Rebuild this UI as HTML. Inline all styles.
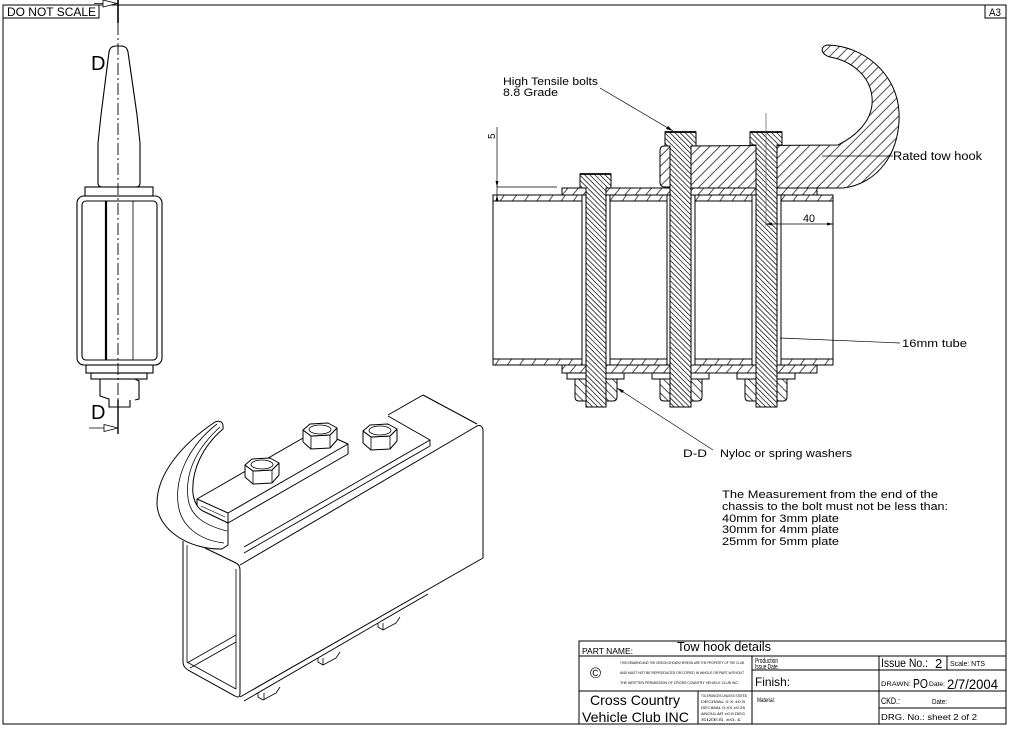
<!DOCTYPE html>
<html><head><meta charset="utf-8"><style>
html,body{margin:0;padding:0;background:#fff;}
svg{display:block;}
text{font-family:"Liberation Sans",sans-serif;fill:#000;}
</style></head><body>
<svg width="1011" height="729" viewBox="0 0 1011 729" xmlns="http://www.w3.org/2000/svg">
<defs>
<pattern id="hb" width="3.6" height="3.6" patternUnits="userSpaceOnUse" patternTransform="rotate(45)"><rect width="3.6" height="3.6" fill="#fff"/><line x1="0" y1="1.8" x2="3.6" y2="1.8" stroke="#000" stroke-width="0.7"/></pattern>
<pattern id="hn" width="6" height="6" patternUnits="userSpaceOnUse" patternTransform="rotate(45)"><rect width="6" height="6" fill="#fff"/><line x1="0" y1="3" x2="6" y2="3" stroke="#000" stroke-width="0.7"/></pattern>
<pattern id="hh" width="7" height="7" patternUnits="userSpaceOnUse" patternTransform="rotate(-45)"><rect width="7" height="7" fill="#fff"/><line x1="0" y1="3.5" x2="7" y2="3.5" stroke="#000" stroke-width="0.7"/></pattern>
<pattern id="hp" width="8" height="8" patternUnits="userSpaceOnUse" patternTransform="rotate(-50)"><rect width="8" height="8" fill="#fff"/><line x1="0" y1="4" x2="8" y2="4" stroke="#000" stroke-width="0.7"/></pattern>
<pattern id="ht" width="10" height="10" patternUnits="userSpaceOnUse" patternTransform="rotate(-55)"><rect width="10" height="10" fill="#fff"/><line x1="0" y1="5" x2="10" y2="5" stroke="#000" stroke-width="0.7"/></pattern>
</defs>

<!-- Border -->
<rect x="3" y="5" width="1003" height="719" fill="none" stroke="#000" stroke-width="1"/>
<rect x="3" y="5" width="96" height="13" fill="#fff" stroke="#000" stroke-width="1"/>
<text x="7" y="16" font-size="11.5" textLength="89" lengthAdjust="spacingAndGlyphs">DO NOT SCALE</text>
<rect x="985" y="5" width="21" height="13" fill="#fff" stroke="#000" stroke-width="1"/>
<text x="989" y="16" font-size="11" textLength="12" lengthAdjust="spacingAndGlyphs">A3</text>

<!-- ============ SIDE VIEW ============ -->
<g fill="none" stroke="#000" stroke-width="1.1">
  <line x1="118" y1="0" x2="118" y2="23" stroke-width="1.6"/>
  <line x1="118" y1="23" x2="118" y2="400" stroke-width="0.9" stroke-dasharray="12 3 2 3"/>
  <line x1="118" y1="400" x2="118" y2="434" stroke-width="1.4"/>
  <line x1="94" y1="3.5" x2="118" y2="3.5" stroke-width="0.8"/>
  <polygon points="103,0 117,3.5 103,7" fill="#fff" stroke-width="0.8"/>
  <line x1="89" y1="428" x2="118" y2="428" stroke-width="0.8"/>
  <polygon points="104,424.5 118,428 104,431.5" fill="#fff" stroke-width="0.8"/>
  <path d="M98,183 L98,143 L101,115 L109,52 Q110,46 116,46 L121,46 Q127,46 128,52 L137,115 L140,143 L140,183 Q140,187 136,187 L102,187 Q98,187 98,183 Z"/>
  <rect x="85" y="187" width="68" height="9"/>
  <rect x="77" y="196" width="85" height="169" rx="7"/>
  <rect x="82" y="201" width="75" height="159" rx="4"/>
  <line x1="106" y1="201" x2="106" y2="360" stroke-width="2.2"/>
  <line x1="133" y1="201" x2="133" y2="360" stroke-width="0.8"/>
  <rect x="86" y="365" width="67" height="8"/>
  <rect x="91" y="373" width="56" height="6"/>
  <path d="M100,379 L100,396 L109,399 L109,407 L130,407 L130,400"/>
  <path d="M135,379 L139,381 L139,399 L135,400"/>
</g>
<text x="91" y="70" font-size="20">D</text>
<text x="91" y="419" font-size="20">D</text>

<!-- ============ SECTION VIEW ============ -->
<g stroke="#000" stroke-width="1">
  <!-- tube walls -->
  <rect x="493" y="195" width="340" height="6" fill="url(#ht)"/>
  <rect x="493" y="359" width="340" height="6" fill="url(#ht)"/>
  <line x1="493" y1="195" x2="493" y2="365"/>
  <line x1="833" y1="195" x2="833" y2="365"/>
  <!-- plates -->
  <rect x="562" y="188" width="255" height="7" fill="url(#hp)"/>
  <rect x="562" y="365" width="255" height="8" fill="url(#hp)"/>
  <!-- hook -->
  <path d="M670,146 H664 Q660,146 660,151 V182 Q660,187 665,187 H670 Z" fill="url(#hh)"/>
  <path d="M691,146 L838,145 C860,134 874,117 872,97 C870,76 852,61 830,57 C821,55 819,46 828,45 C864,46 897,74 899,112 C901,152 878,184 843,188 L691,188 Z" fill="url(#hh)"/>
  <!-- sleeves -->
  <rect x="582" y="195" width="28" height="170" fill="#fff"/>
  <rect x="667" y="195" width="28" height="170" fill="#fff"/>
  <rect x="752" y="195" width="29" height="170" fill="#fff"/>
  <!-- washers -->
  <rect x="567" y="373" width="57" height="6" fill="#fff"/>
  <rect x="652" y="373" width="57" height="6" fill="#fff"/>
  <rect x="737" y="373" width="58" height="6" fill="#fff"/>
  <!-- nuts -->
  <path d="M575,379 H617 V397 Q617,401 613,401 H579 Q575,401 575,397 Z" fill="url(#hn)"/>
  <path d="M660,379 H702 V397 Q702,401 698,401 H664 Q660,401 660,397 Z" fill="url(#hn)"/>
  <path d="M745,379 H787 V397 Q787,401 783,401 H749 Q745,401 745,397 Z" fill="url(#hn)"/>
  <!-- bolts -->
  <path d="M580,174 H611 V188 H606 V407 H586 V188 H580 Z" fill="url(#hb)"/>
  <path d="M665,132 H696 V146 H691 V407 H670 V146 H665 Z" fill="url(#hb)"/>
  <path d="M750,132 H782 V145 H777 V407 H756 V145 H750 Z" fill="url(#hb)"/>
</g>
<g stroke="#000" stroke-width="1.8">
  <line x1="580" y1="174" x2="611" y2="174"/>
  <line x1="665" y1="132" x2="696" y2="132"/>
  <line x1="750" y1="132" x2="782" y2="132"/>
</g>
<g stroke="#000" stroke-width="0.7" fill="none">
  <line x1="582" y1="201" x2="582" y2="359"/><line x1="610" y1="201" x2="610" y2="359"/>
  <line x1="667" y1="201" x2="667" y2="359"/><line x1="695" y1="201" x2="695" y2="359"/>
  <line x1="752" y1="201" x2="752" y2="359"/><line x1="781" y1="201" x2="781" y2="359"/>
  <line x1="766" y1="113" x2="766" y2="226" stroke="#555"/>
  <!-- dim 5 -->
  <line x1="497" y1="127" x2="497" y2="201"/>
  <line x1="497" y1="187" x2="557" y2="187"/>
  <!-- dim 40 -->
  <line x1="766" y1="224" x2="833" y2="224"/>
  <!-- leaders -->
  <line x1="600" y1="88" x2="673" y2="131"/>
  <line x1="822" y1="156" x2="893" y2="156"/>
  <line x1="780" y1="338" x2="900" y2="343"/>
  <line x1="713" y1="450" x2="617" y2="388"/>
</g>
<g fill="#000">
  <polygon points="497,187 495.5,181 498.5,181"/>
  <polygon points="497,195 495.5,201 498.5,201"/>
  <polygon points="766,224 772,222.5 772,225.5"/>
  <polygon points="833,224 827,222.5 827,225.5"/>
  <polygon points="673,131 666,129 668,126"/>
  <polygon points="617,388 624,390.5 622,393"/>
</g>
<text x="0" y="0" font-size="10" transform="translate(495,139) rotate(-90)">5</text>
<text x="803" y="222" font-size="11" textLength="12" lengthAdjust="spacingAndGlyphs">40</text>
<text x="503" y="85" font-size="11" textLength="95" lengthAdjust="spacingAndGlyphs">High Tensile bolts</text>
<text x="503" y="96" font-size="11" textLength="55" lengthAdjust="spacingAndGlyphs">8.8 Grade</text>
<text x="893" y="160" font-size="11.5" textLength="89" lengthAdjust="spacingAndGlyphs">Rated tow hook</text>
<text x="902" y="347" font-size="11" textLength="65" lengthAdjust="spacingAndGlyphs">16mm tube</text>
<text x="683" y="457" font-size="11" textLength="24" lengthAdjust="spacingAndGlyphs">D-D</text>
<text x="720" y="457" font-size="11" textLength="132" lengthAdjust="spacingAndGlyphs">Nyloc or spring washers</text>

<!-- Notes -->
<text x="722" y="498" font-size="11" textLength="216" lengthAdjust="spacingAndGlyphs">The Measurement from the end of the</text>
<text x="722" y="510" font-size="11" textLength="226" lengthAdjust="spacingAndGlyphs">chassis to the bolt must not be less than:</text>
<text x="722" y="522" font-size="11" textLength="117" lengthAdjust="spacingAndGlyphs">40mm for 3mm plate</text>
<text x="722" y="533" font-size="11" textLength="117" lengthAdjust="spacingAndGlyphs">30mm for 4mm plate</text>
<text x="722" y="545" font-size="11" textLength="117" lengthAdjust="spacingAndGlyphs">25mm for 5mm plate</text>

<!-- ============ ISO VIEW ============ -->
<g fill="none" stroke="#000" stroke-width="1" stroke-linejoin="round">
  <!-- tube -->
  <path d="M183,541 L183,662 Q183,667 188,670 L235,696 Q240,699 240,693 L240,570 Q240,565 236,563 L205,548"/>
  <path d="M187,545 L187,662 L236,689 L236,569" stroke-width="0.8"/>
  <path d="M187,663 L236,635 M190,668 L236,642" stroke-width="0.8"/>
  <path d="M240,565 L477,426 Q482,424 483,430 L483,558"/>
  <path d="M240,697 L483,558"/>
  <path d="M423,395 L477,424"/>
  <path d="M388,415 L423,395"/>
  <!-- plate on top -->
  <path d="M388,416 L430,440 L430,446" stroke-width="0.9"/>
  <path d="M244,547 L430,440 M244,553 L430,446" stroke-width="0.9"/>
  <!-- bottom plate & nuts -->
  <path d="M244,701 L428,594" stroke-width="0.9"/>
  <path d="M258,693 L258,697 L263,700 L276,693 L280,687 M264,700 L264,693" stroke-width="0.8"/>
  <path d="M318,658 L318,662 L323,665 L336,658 L340,652 M323,665 L323,658" stroke-width="0.8"/>
  <path d="M378,623 L378,627 L383,630 L396,623 L400,617 M383,630 L383,623" stroke-width="0.8"/>
  <!-- hook bar -->
  <path d="M197,499 L228,513 L348,444 L317,430 Z" fill="#fff"/>
  <path d="M228,513 L228,523 L348,454 L348,444"/>
  <path d="M197,499 L197,507 Q197,511 201,513 L228,523"/>
  <path d="M201,506 L225,517" stroke-width="0.6"/>
  <!-- nut 3 (on plate) -->
  <path d="M363,431 L363,443 L371,450 L390,449 L397,441 L397,429 L390,436 L371,437 Z" fill="#fff"/>
  <path d="M363,431 L370,425 L388,424 L397,429 L390,436 L371,437 Z" fill="#fff"/>
  <path d="M371,437 L371,450 M390,436 L390,449" stroke-width="0.8"/>
  <ellipse cx="380" cy="430.5" rx="11" ry="4.5" stroke-width="0.8"/>
  <!-- nut 2 -->
  <path d="M303,430 L303,442 L311,449 L330,448 L337,440 L337,428 L330,435 L311,436 Z" fill="#fff"/>
  <path d="M303,430 L310,424 L328,423 L337,428 L330,435 L311,436 Z" fill="#fff"/>
  <path d="M311,436 L311,449 M330,435 L330,448" stroke-width="0.8"/>
  <ellipse cx="320" cy="429.5" rx="11" ry="4.5" stroke-width="0.8"/>
  <!-- nut 1 -->
  <path d="M245,465 L245,477 L253,484 L272,483 L279,475 L279,463 L272,470 L253,471 Z" fill="#fff"/>
  <path d="M245,465 L252,459 L270,458 L279,463 L272,470 L253,471 Z" fill="#fff"/>
  <path d="M253,471 L253,484 M272,470 L272,483" stroke-width="0.8"/>
  <ellipse cx="262" cy="464.5" rx="11" ry="4.5" stroke-width="0.8"/>
  <!-- hook -->
  <path d="M222,549 C190,550 157,530 157,503 C157,474 182,444 215,422 Q224,419 223,429 C203,446 191,470 193,494 C195,506 200,510 205,512 L228,523 L228,545 Z" fill="#fff"/>
  <path d="M217,424 C190,445 175,475 178,503 C180,525 198,540 224,543" stroke-width="0.8"/>
  <path d="M220,427 C197,448 185,472 188,498 C190,515 203,525 227,531" stroke-width="0.8"/>
</g>

<!-- ============ TITLE BLOCK ============ -->
<g fill="none" stroke="#000" stroke-width="1">
  <rect x="579" y="641" width="427" height="83"/>
  <line x1="579" y1="656" x2="1006" y2="656"/>
  <line x1="752" y1="670" x2="1006" y2="670"/>
  <line x1="579" y1="691" x2="1006" y2="691"/>
  <line x1="879" y1="708" x2="1006" y2="708"/>
  <line x1="752" y1="656" x2="752" y2="724"/>
  <line x1="879" y1="656" x2="879" y2="724"/>
  <line x1="947" y1="656" x2="947" y2="670"/>
  <line x1="698" y1="691" x2="698" y2="724"/>
</g>
<text x="582" y="654" font-size="8.5" textLength="51" lengthAdjust="spacingAndGlyphs">PART NAME:</text>
<text x="677" y="651" font-size="13" textLength="94" lengthAdjust="spacingAndGlyphs">Tow hook details</text>
<text x="590" y="678" font-size="15">©</text>
<g fill="#777" font-size="3.3">
  <text x="620" y="664" textLength="124" lengthAdjust="spacingAndGlyphs">THIS DRAWING AND THE DESIGN SHOWN HEREON ARE THE PROPERTY OF THE CLUB</text>
  <text x="620" y="674" textLength="124" lengthAdjust="spacingAndGlyphs">AND MUST NOT BE REPRODUCED OR COPIED IN WHOLE OR PART WITHOUT</text>
  <text x="620" y="684" textLength="118" lengthAdjust="spacingAndGlyphs">THE WRITTEN PERMISSION OF CROSS COUNTRY VEHICLE CLUB INC</text>
  <text x="701" y="697" textLength="46" lengthAdjust="spacingAndGlyphs">TOLERANCES UNLESS STATED</text>
  <text x="701" y="703" textLength="44" lengthAdjust="spacingAndGlyphs">DECIMAL 0.X  ±0.5</text>
  <text x="701" y="709" textLength="44" lengthAdjust="spacingAndGlyphs">DECIMAL 0.XX  ±0.25</text>
  <text x="701" y="715" textLength="44" lengthAdjust="spacingAndGlyphs">ANGULAR  ±0.5 DEG</text>
  <text x="701" y="721" textLength="40" lengthAdjust="spacingAndGlyphs">SIZES  ±0.1</text>
</g>
<text x="590" y="705" font-size="14" textLength="90" lengthAdjust="spacingAndGlyphs">Cross Country</text>
<text x="582" y="722" font-size="14" textLength="107" lengthAdjust="spacingAndGlyphs">Vehicle Club INC</text>
<text x="755" y="663" font-size="7" textLength="23" lengthAdjust="spacingAndGlyphs">Production</text>
<text x="755" y="669" font-size="7" textLength="24" lengthAdjust="spacingAndGlyphs">Issue Date.</text>
<text x="755" y="686" font-size="12" textLength="35" lengthAdjust="spacingAndGlyphs">Finish:</text>
<text x="757" y="702" font-size="6.5" textLength="18" lengthAdjust="spacingAndGlyphs">Material:</text>
<text x="881" y="667" font-size="11.5" textLength="47" lengthAdjust="spacingAndGlyphs">Issue No.:</text>
<text x="935" y="668" font-size="13">2</text>
<text x="950" y="666" font-size="7" textLength="35" lengthAdjust="spacingAndGlyphs">Scale: NTS</text>
<text x="881" y="686" font-size="6.5" textLength="30" lengthAdjust="spacingAndGlyphs">DRAWN:</text>
<text x="913" y="688" font-size="13" textLength="15" lengthAdjust="spacingAndGlyphs">PO</text>
<text x="929" y="686" font-size="6.5" textLength="16" lengthAdjust="spacingAndGlyphs">Date:</text>
<text x="947" y="689" font-size="14" textLength="51" lengthAdjust="spacingAndGlyphs">2/7/2004</text>
<text x="881" y="704" font-size="9" textLength="19" lengthAdjust="spacingAndGlyphs">CKD.:</text>
<text x="932" y="704" font-size="7" textLength="15" lengthAdjust="spacingAndGlyphs">Date:</text>
<text x="881" y="720" font-size="8" textLength="96" lengthAdjust="spacingAndGlyphs">DRG. No.: sheet 2 of 2</text>
</svg>
</body></html>
